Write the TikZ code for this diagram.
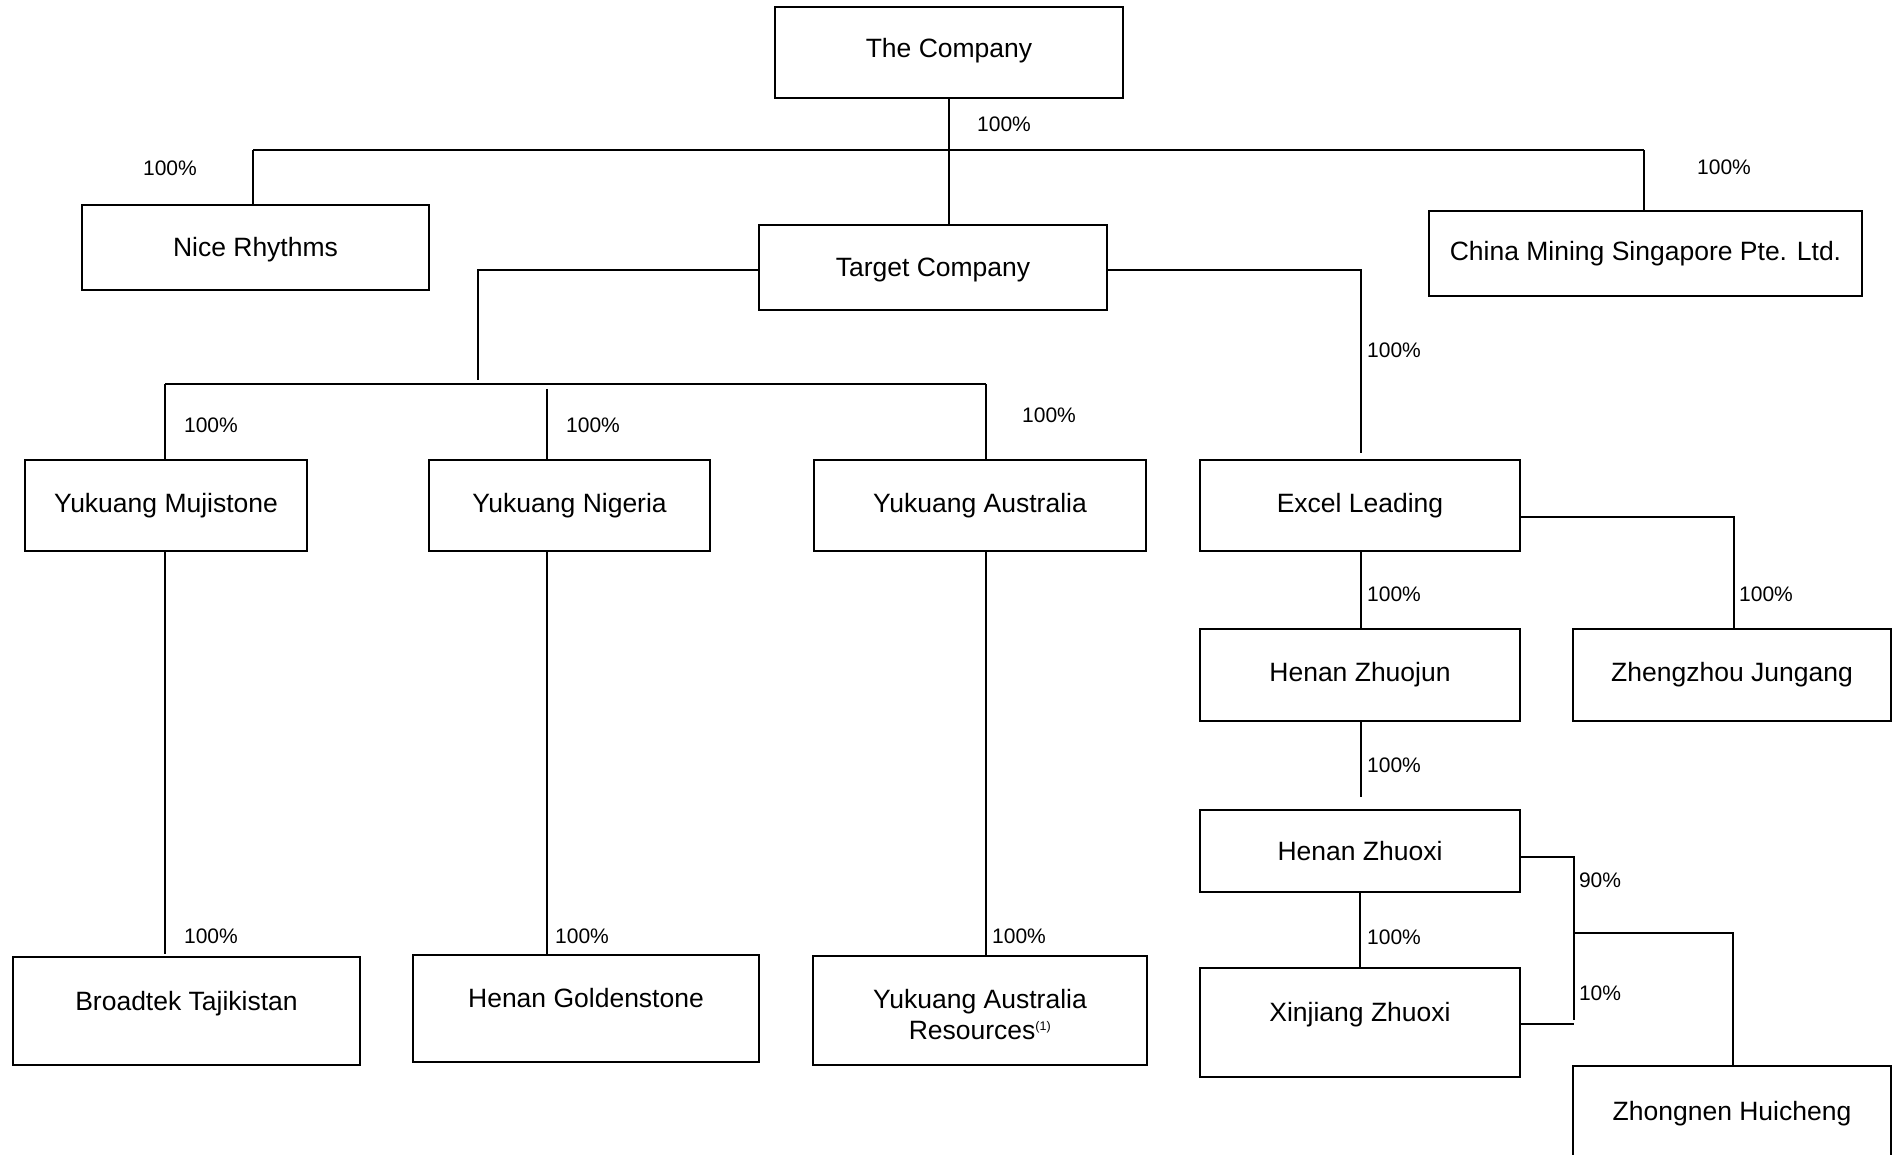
\documentclass[tikz,border=0pt]{standalone}
\usepackage{fontspec}
\setmainfont{Liberation Sans}
\begin{document}
\begin{tikzpicture}[x=1pt,y=-1pt,
  box/.style={draw,line width=2pt,inner sep=0pt,align=center,font=\fontsize{26.5}{31}\selectfont},
  txt/.style={inner sep=0pt,align=center,font=\fontsize{26.5}{31}\selectfont},
  pct/.style={inner sep=0pt,font=\fontsize{21}{25}\selectfont},
  conn/.style={line width=1.6pt}]
\clip (0,0) rectangle (1893,1155);
\fill[white] (0,0) rectangle (1893,1155);
% boxes
\node[box,minimum width=348pt,minimum height=91pt] (comp) at (949,52.5) {};
\node[txt] (compt) at (949,50.5) {The Company};
\node[box,minimum width=347pt,minimum height=85pt] (nice) at (255.5,247.5) {};
\node[txt] (nicet) at (255.5,250) {Nice Rhythms};
\node[box,minimum width=348pt,minimum height=85pt] (target) at (933,267.5) {};
\node[txt] (targett) at (933,270) {Target Company};
\node[box,minimum width=433pt,minimum height=85pt] (china) at (1645.5,253.5) {China Mining Singapore Pte. Ltd.};
\node[box,minimum width=282pt,minimum height=91pt] (muji) at (166,505.5) {Yukuang Mujistone};
\node[box,minimum width=281pt,minimum height=91pt] (nig) at (569.5,505.5) {Yukuang Nigeria};
\node[box,minimum width=332pt,minimum height=91pt] (aus) at (980,505.5) {Yukuang Australia};
\node[box,minimum width=320pt,minimum height=91pt] (excel) at (1360,505.5) {Excel Leading};
\node[box,minimum width=347pt,minimum height=108pt] (broad) at (186.5,1011) {};
\node[txt] (broadt) at (186.5,1004) {Broadtek Tajikistan};
\node[box,minimum width=346pt,minimum height=107pt] (gold) at (586,1008.5) {};
\node[txt] (goldt) at (586,998) {Henan Goldenstone};
\node[box,minimum width=334pt,minimum height=109pt] (yar) at (980,1010.5) {};
\node[txt] (yart) at (980,1015) {Yukuang Australia\\Resources\textsuperscript{\fontsize{12.5}{13}\selectfont(1)}};
\node[box,minimum width=320pt,minimum height=92pt] (zhuojun) at (1360,675) {Henan Zhuojun};
\node[box,minimum width=318pt,minimum height=92pt] (jungang) at (1732,675) {Zhengzhou Jungang};
\node[box,minimum width=320pt,minimum height=82pt] (zhuoxi) at (1360,851) {Henan Zhuoxi};
\node[box,minimum width=320pt,minimum height=109pt] (xinj) at (1360,1022.5) {};
\node[txt] (xinjt) at (1360,1015) {Xinjiang Zhuoxi};
\node[box,minimum width=318pt,minimum height=134pt] (zhong) at (1732,1133) {};
\node[txt] (zhongt) at (1732,1114) {Zhongnen Huicheng};
% connectors
\coordinate (hL) at (253,150);
\coordinate (hR) at (1644,150);
\draw[conn] (comp.south) -- (comp.south |- target.north);
\draw[conn] (hL) -- (hR);
\draw[conn] (hL) -- (hL |- nice.north);
\draw[conn] (hR) -- (hR |- china.north);
\coordinate (tl) at (478,270);
\coordinate (tlb) at (478,380);
\draw[conn] (target.west |- tl) -- (tl) -- (tlb);
\coordinate (hbL) at (165,384);
\coordinate (hbR) at (986,384);
\coordinate (nigtop) at (547,389);
\draw[conn] (hbL) -- (hbR);
\draw[conn] (hbL) -- (hbL |- muji.north);
\draw[conn] (nigtop) -- (nigtop |- nig.north);
\draw[conn] (hbR) -- (hbR |- aus.north);
\coordinate (tr) at (1361,270);
\coordinate (trb) at (1361,453);
\draw[conn] (target.east |- tr) -- (tr) -- (trb);
\draw[conn] (hbL |- muji.south) -- (165,954);
\draw[conn] (nigtop |- nig.south) -- (547,954);
\draw[conn] (hbR |- aus.south) -- (986,956);
\draw[conn] (1361,551) -- (1361,629);
\coordinate (er) at (1734,517);
\draw[conn] (excel.east |- er) -- (er) -- (er |- jungang.north);
\coordinate (zjb) at (1361,797);
\draw[conn] (zhuojun.south -| zjb) -- (zjb);
\draw[conn] (zhuoxi.south) -- (xinj.north);
\coordinate (zr) at (1574,857);
\coordinate (zrb) at (1574,1020);
\draw[conn] (zhuoxi.east |- zr) -- (zr) -- (zrb);
\coordinate (xr) at (1574,1024);
\draw[conn] (xinj.east |- xr) -- (xr);
\coordinate (hz) at (1574,933);
\coordinate (hzr) at (1733,933);
\draw[conn] (hz) -- (hzr) -- (hzr |- zhong.north);
% percentages
\node[pct] (p1) at (1004,124) {100\%};
\node[pct] (p2) at (170,168) {100\%};
\node[pct] (p3) at (1724,167) {100\%};
\node[pct] (p4) at (1394,350) {100\%};
\node[pct] (p5) at (211,425) {100\%};
\node[pct] (p6) at (593,425) {100\%};
\node[pct] (p7) at (1049,415) {100\%};
\node[pct] (p8) at (211,936) {100\%};
\node[pct] (p9) at (582,936) {100\%};
\node[pct] (p10) at (1019,936) {100\%};
\node[pct] (p11) at (1394,594) {100\%};
\node[pct] (p12) at (1766,594) {100\%};
\node[pct] (p13) at (1394,765) {100\%};
\node[pct] (p14) at (1394,937) {100\%};
\node[pct] (p15) at (1600,880) {90\%};
\node[pct] (p16) at (1600,993) {10\%};
\end{tikzpicture}
\end{document}
